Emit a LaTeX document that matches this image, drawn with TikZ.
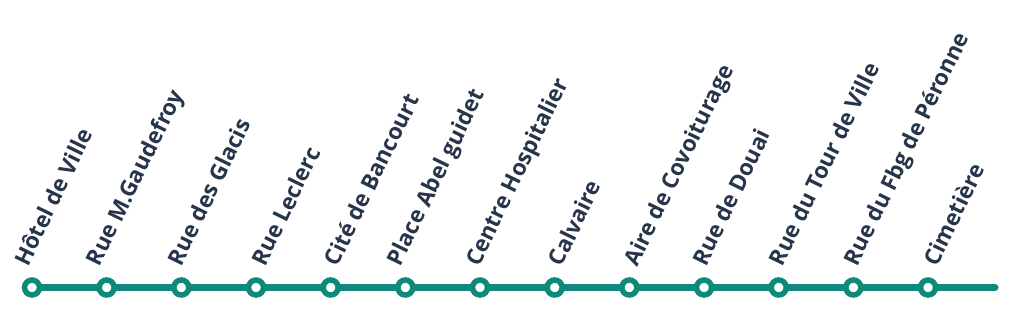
\documentclass[tikz,border=0pt]{standalone}
\usepackage{fontspec}
\setmainfont{Open Sans}
\definecolor{lteal}{RGB}{14,138,122}
\definecolor{lnavy}{RGB}{39,53,74}
\tikzset{lineplan/.style={x=1pt,y=1pt},
  stop/.style={circle,draw=lteal,fill=white,line width=5.5pt,minimum size=15pt,inner sep=0pt},
  stoplabel/.style={text=lnavy,font=\fontsize{22.5}{25}\selectfont\bfseries,rotate=64,anchor=base west,inner sep=0pt}}

\begin{document}
\begin{tikzpicture}[lineplan]
    \useasboundingbox (0,0) rectangle (1024,313);
    \coordinate (a) at (28,25.5); % line start
    \coordinate (b) at (995,25.5); % line end
    \draw[lteal,line width=7pt,line cap=round] (a) -- (b); % green line
    \foreach \stopname/\dx [count=\i from 0] in {Hôtel de Ville/-4,Rue M.Gaudefroy/-7,Rue des Glacis/0,Rue Leclerc/9,Cité de Bancourt/7,Place Abel guidet/-5,Centre Hospitalier/-1,Calvaire/7,Aire de Covoiturage/8,Rue de Douai/2,Rue du Tour de Ville/4,Rue du Fbg de Péronne/4,Cimetière/9}
    {
      \node[stop] (s\i) at ({32+74.67*\i},25.5) {}; % stop circle
      \node[stoplabel] (l\i) at ([xshift=\dx pt,yshift=20pt]s\i.center) {\stopname}; % stop name
    }
  \end{tikzpicture}
\end{document}
